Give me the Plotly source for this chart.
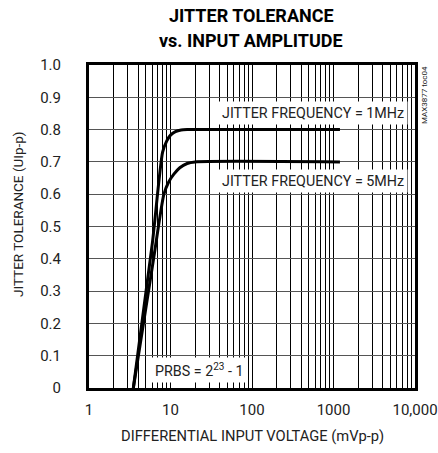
import plotly.graph_objects as go

# Data
x_1mhz = [3.5, 6.0, 8.0, 9.0, 10.0, 11.5, 13.5, 16.0, 1200]
y_1mhz = [0.0, 0.45, 0.73, 0.765, 0.783, 0.794, 0.799, 0.80, 0.80]
x_5mhz = [3.5, 6.2, 8.3, 9.5, 11.0, 13.0, 16.0, 20.0, 1200]
y_5mhz = [0.0, 0.40, 0.60, 0.638, 0.662, 0.682, 0.695, 0.70, 0.70]

x_tickvals = [1, 10, 100, 1000, 10000]
x_ticktext = ["1", "10", "100", "1000", "10,000"]
y_tickvals = [0, 0.1, 0.2, 0.3, 0.4, 0.5, 0.6, 0.7, 0.8, 0.9, 1.0]
y_ticktext = ["0", "0.1", "0.2", "0.3", "0.4", "0.5", "0.6", "0.7", "0.8", "0.9", "1.0"]

FONT = "Roboto, Liberation Sans, sans-serif"
TXT = "#222"
W, H = 438, 453
ML, MR, MT, MB = 89, 23, 65, 65

fig = go.Figure()
for xs, ys in ((x_1mhz, y_1mhz), (x_5mhz, y_5mhz)):
    fig.add_trace(go.Scatter(x=xs, y=ys, mode="lines",
                             line=dict(color="black", width=3, shape="spline", smoothing=0.6),
                             showlegend=False, hoverinfo="skip"))

fig.update_layout(
    width=W, height=H,
    margin=dict(l=ML, r=MR, t=MT, b=MB),
    paper_bgcolor="white", plot_bgcolor="white",
    font=dict(family=FONT, size=14.5, color=TXT),
    xaxis=dict(type="log", range=[0, 4], tickvals=x_tickvals, ticktext=x_ticktext,
               showgrid=True, gridcolor="black", gridwidth=1,
               minor=dict(showgrid=True, gridcolor="black", gridwidth=1, dtick="D1", ticks=""),
               showline=True, linecolor="black", linewidth=3, mirror=True,
               ticks="outside", ticklen=6, tickcolor="rgba(0,0,0,0)",
               zeroline=False, automargin=False, tickfont=dict(size=15)),
    yaxis=dict(range=[0, 1], tickvals=y_tickvals, ticktext=y_ticktext,
               showgrid=True, gridcolor="#555", gridwidth=1,
               showline=True, linecolor="black", linewidth=3, mirror=True,
               ticks="outside", ticklen=22, tickcolor="rgba(0,0,0,0)",
               zeroline=False, automargin=False, tickfont=dict(size=15)),
)


def px(xp, yp):
    # convert pixel coords of the canvas into paper coords
    return (xp - ML) / (W - ML - MR), (H - MB - yp) / (H - MB - MT)


def add_text(xp, yp, text, size, angle=0, color=TXT, xanchor="center", yanchor="middle"):
    tx, ty = px(xp, yp)
    fig.add_annotation(x=tx, y=ty, xref="paper", yref="paper", xanchor=xanchor,
                       yanchor=yanchor, showarrow=False, textangle=angle, text=text,
                       font=dict(size=size, color=color))


# Title
add_text(251, 15, "<b>JITTER TOLERANCE</b>", 18, color="black")
add_text(251, 40, "<b>vs. INPUT AMPLITUDE</b>", 18, color="black")

# Axis titles
add_text(252, 436, "DIFFERENTIAL INPUT VOLTAGE (mVp-p)", 14.7)
add_text(18, 214, "JITTER TOLERANCE (UIp-p)", 13.5, angle=-90)

# Vertical code label
add_text(425, 64, "MAX3877 toc04", 8, angle=-90, yanchor="top")

# In-plot labels
fig.add_annotation(x=3.91, y=0.852, xref="x", yref="y", xanchor="right", yanchor="middle",
                   text="JITTER FREQUENCY = 1MHz", showarrow=False, bgcolor="white",
                   font=dict(size=14.3, color=TXT), borderpad=3)
fig.add_annotation(x=3.91, y=0.641, xref="x", yref="y", xanchor="right", yanchor="middle",
                   text="JITTER FREQUENCY = 5MHz", showarrow=False, bgcolor="white",
                   font=dict(size=14.3, color=TXT), borderpad=3)
fig.add_annotation(x=0.76, y=0.057, xref="x", yref="y", xanchor="left", yanchor="middle",
                   text="PRBS = 2<sup>23</sup> - 1", showarrow=False, bgcolor="white",
                   font=dict(size=14.3, color=TXT), borderpad=3)

fig.write_html("out.html", config={"displayModeBar": False},
               post_script="document.body.style.margin='0';")
